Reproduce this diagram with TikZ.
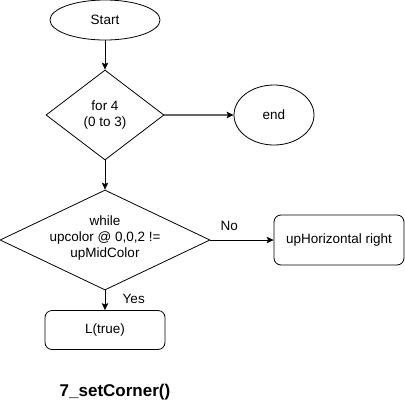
\documentclass[tikz,border=0pt]{standalone}
\usepackage{fontspec}
\setmainfont{Liberation Sans}
\usetikzlibrary{shapes.geometric,arrows.meta}

\begin{document}
\begin{tikzpicture}[
    x=1bp, y=-1bp,
    line width=0.8bp,
    every node/.style={font=\fontsize{13.5bp}{16bp}\selectfont},
    terminal/.style={draw, ellipse, inner sep=0pt},
    decision/.style={draw, diamond, inner sep=0pt},
    process/.style={draw, rounded corners=7bp, inner sep=0pt},
    flow/.style={-{Stealth[length=7bp, width=6.5bp, inset=1.5bp, color=black]}},
]

% ---------- frame of the page ----------
\useasboundingbox (0,0) rectangle (405,411);

% ---------- shapes ----------
\node[terminal, minimum width=110bp, minimum height=40bp] (start) at (105,20) {Start};
\node[decision, minimum width=118bp, minimum height=90bp,
      label={[align=center]center:for 4\\(0 to 3)}] (loop) at (105,115) {};
\node[terminal, minimum width=80bp, minimum height=60bp] (stop) at (274,115) {end};
\node[decision, minimum width=210bp, minimum height=100bp,
      label={[align=center, yshift=2bp]center:while\\upcolor @ 0,0,2 !=\\upMidColor}] (while) at (105,240) {};
\node[process, minimum width=130bp, minimum height=50bp] (uphor) at (339,240) {upHorizontal right};
\node[process, minimum width=120bp, minimum height=39bp] (ltrue) at (105,330) {L(true)};

% caption under the chart
\node[font=\bfseries\fontsize{17bp}{20bp}\selectfont] (title) at (115,392) {7\_setCorner()};

% ---------- connectors ----------
\draw[flow] (start) -- (loop);
\draw[flow, draw=black!60, line width=1.2bp] (loop) -- (stop);
\draw[flow] (loop) -- (while);
\draw[flow] (while) -- node[above=6bp, pos=0.3] (no) {No} (uphor);
\draw[flow] (while) -- node[right=14bp, pos=0.45] (yes) {Yes} (ltrue);

\end{tikzpicture}
\end{document}
